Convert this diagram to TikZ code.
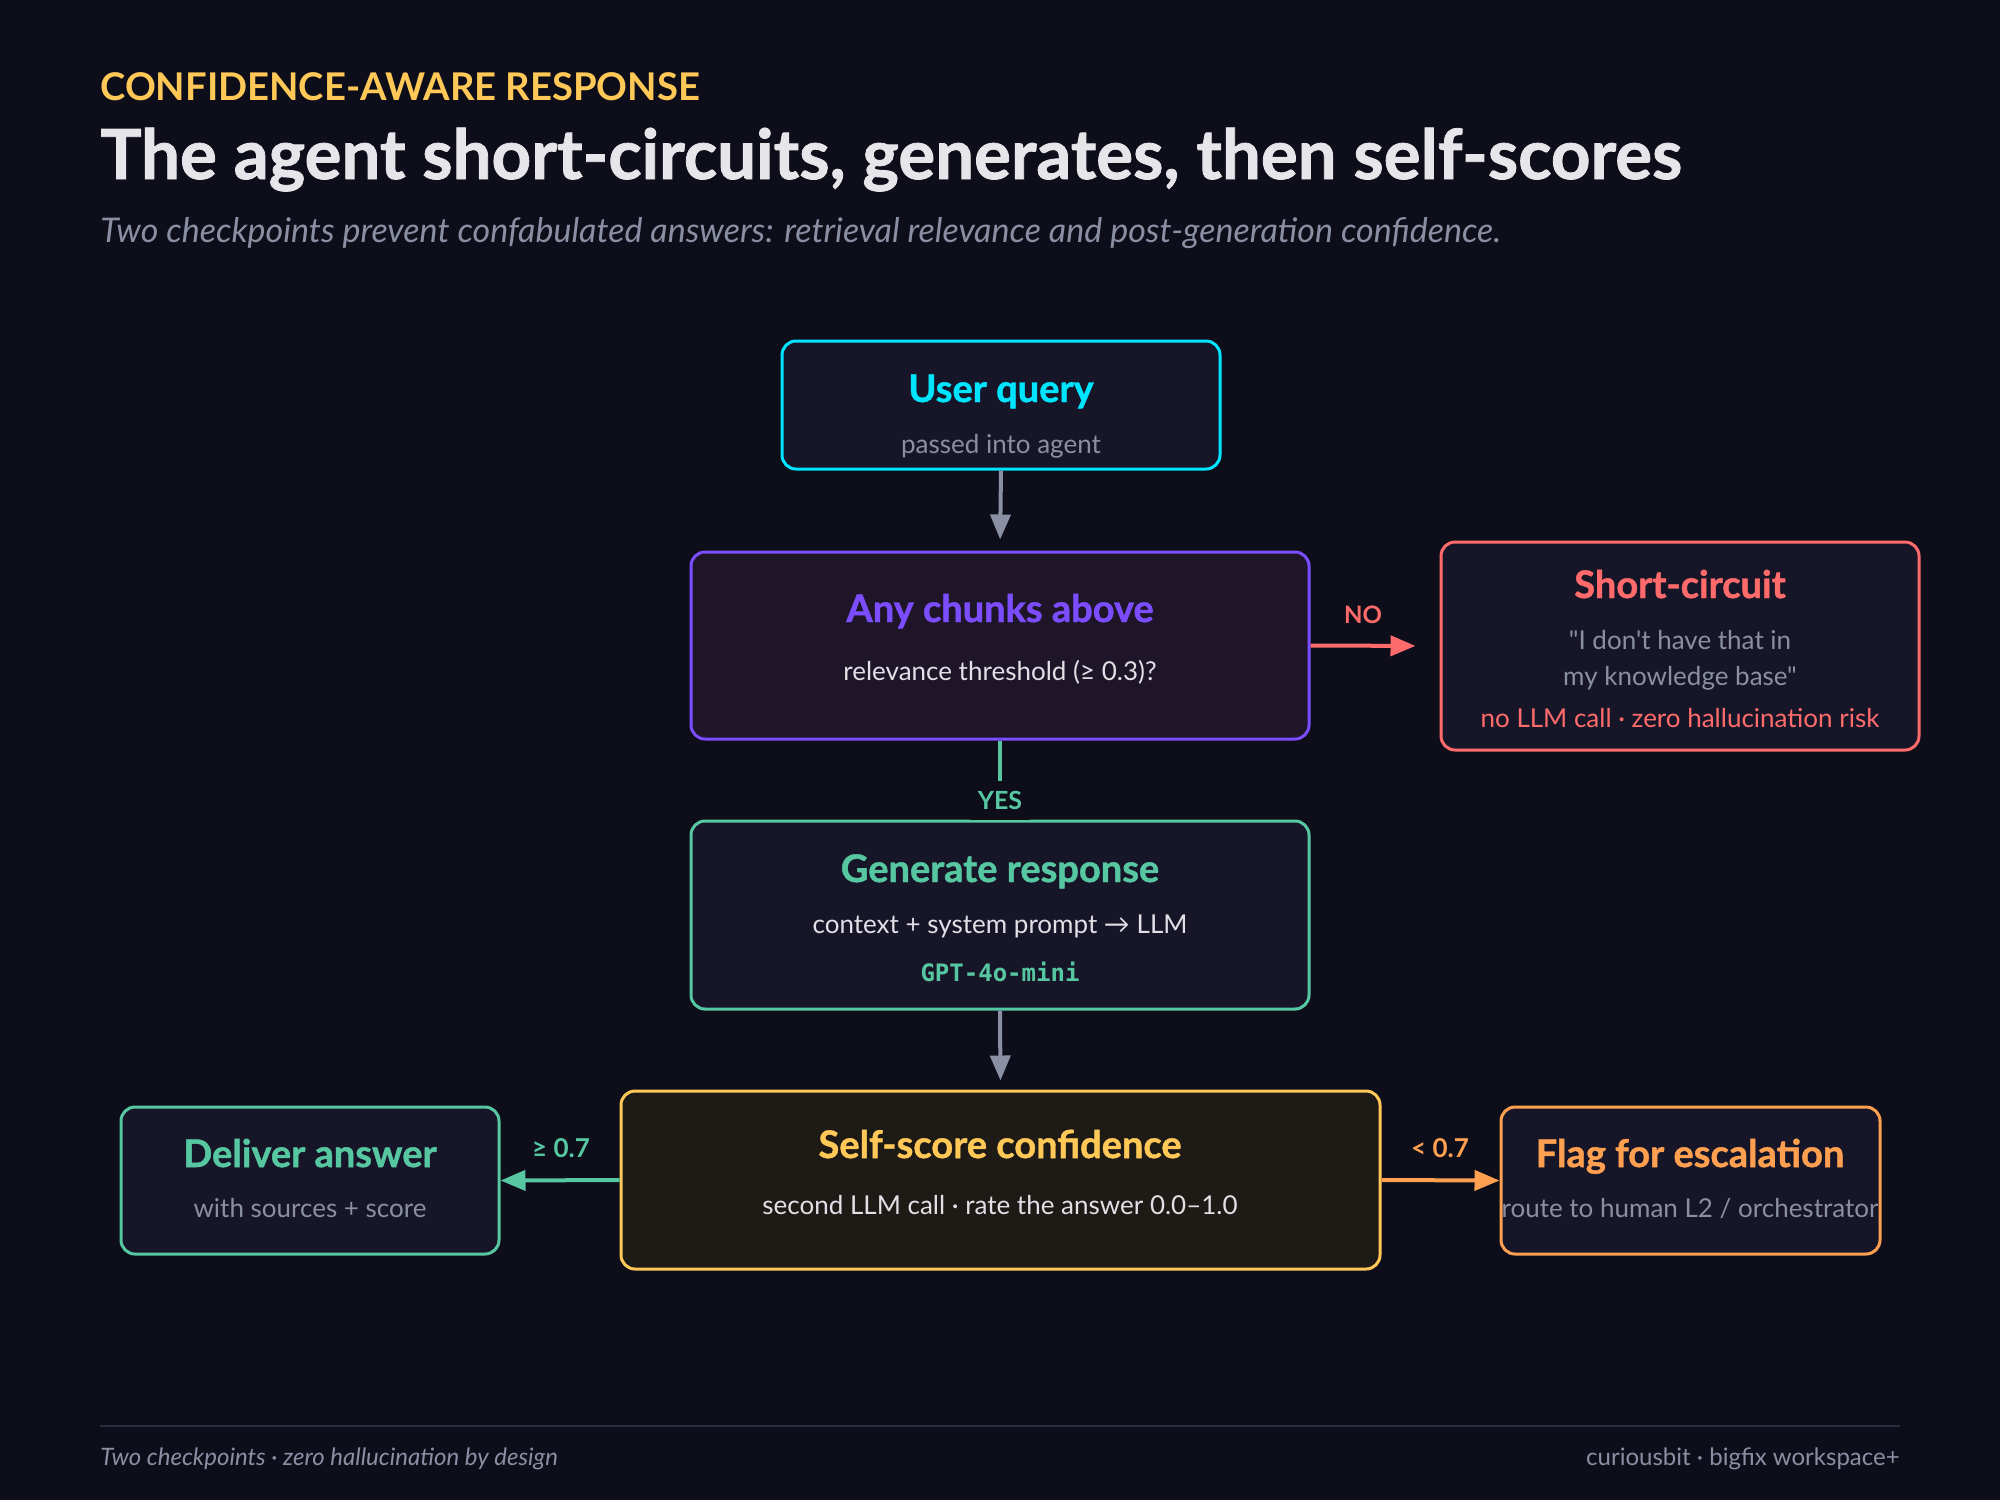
\documentclass[tikz,border=0pt]{standalone}
\usepackage{fontspec}
\setmainfont{Lato}[Ligatures=TeXOff]
\newfontfamily\heavyfont{Lato}[Ligatures=TeXOff, BoldFeatures={FakeBold=1.2}]
\newfontfamily\dvmono{DejaVu Sans Mono}
\usetikzlibrary{arrows.meta}
\definecolor{bgc}{HTML}{0D0E1A}
\definecolor{boxfill}{HTML}{161628}
\definecolor{decfill}{HTML}{1F1529}
\definecolor{selffill}{HTML}{1E1A16}
\definecolor{cyanc}{HTML}{00E5FF}
\definecolor{purplec}{HTML}{7C4DFF}
\definecolor{redc}{HTML}{FF6B6B}
\definecolor{tealc}{HTML}{57C7A2}
\definecolor{yellowc}{HTML}{FFC857}
\definecolor{orangec}{HTML}{FFA050}
\definecolor{greyt}{HTML}{8A8FA3}
\definecolor{lightt}{HTML}{E0E0E6}
\definecolor{titlec}{HTML}{E6E6EA}
\definecolor{arrowg}{HTML}{8A8FA3}
\definecolor{rulec}{HTML}{2A2B3C}
\begin{document}
\begin{tikzpicture}[x=0.5pt,y=-0.5pt,
  box/.style={draw, rounded corners=7pt, line width=1.5pt, inner sep=0pt, fill=boxfill},
  ttl/.style={anchor=base, inner sep=0pt, font=\heavyfont\bfseries\fontsize{19}{22}\selectfont},
  sub/.style={anchor=base, inner sep=0pt, font=\fontsize{13}{16}\selectfont, text=greyt},
  lsub/.style={sub, text=lightt},
  arr/.style={line width=2pt, -{Triangle[length=12.5pt,width=10pt]}},
  elbl/.style={anchor=base, inner sep=0pt, font=\bfseries\fontsize{12}{14}\selectfont},
  glbl/.style={anchor=base, inner sep=0pt, font=\bfseries\fontsize{13}{15}\selectfont}
]
\fill[bgc] (0,0) rectangle (2000,1500);
\useasboundingbox (0,0) rectangle (2000,1500);

% header
\node[anchor=base west, inner sep=0pt, text=yellowc, font=\bfseries\fontsize{19.1}{22}\selectfont] (eyebrow) at (100,100) {CONFIDENCE-AWARE RESPONSE};
\node[anchor=base west, inner sep=0pt, text=titlec, font=\heavyfont\bfseries\fontsize{34.5}{40}\selectfont] (title) at (100,179) {The agent short-circuits, generates, then self-scores};
\node[anchor=base west, inner sep=0pt, text=greyt, font=\itshape\fontsize{17}{20}\selectfont] (subtitle) at (100,242) {Two checkpoints prevent confabulated answers: retrieval relevance and post-generation confidence.};

% boxes
\node[box, draw=cyanc, minimum width=219pt, minimum height=64pt] (uq) at (1001,405) {};
\node[box, draw=purplec, fill=decfill, minimum width=309pt, minimum height=93.5pt] (dec) at (1000,645.5) {};
\node[box, draw=redc, minimum width=239pt, minimum height=104pt] (sc) at (1680,646) {};
\node[box, draw=tealc, minimum width=309pt, minimum height=94pt] (gen) at (1000,915) {};
\node[box, draw=yellowc, fill=selffill, minimum width=379.5pt, minimum height=89pt] (self) at (1000.5,1180) {};
\node[box, draw=tealc, minimum width=189pt, minimum height=73.5pt] (del) at (310,1180.5) {};
\node[box, draw=orangec, minimum width=189.5pt, minimum height=73.5pt] (flag) at (1690.5,1180.5) {};

% box texts
\node[ttl, text=cyanc] (uqt) at (1001,402) {User query};
\node[sub] (uqs) at (1001,453) {passed into agent};

\node[ttl, text=purplec] (dect) at (1000,622) {Any chunks above};
\node[lsub] (decs) at (1000,680) {relevance threshold (≥ 0.3)?};

\node[ttl, text=redc] (sct) at (1680,598) {Short-circuit};
\node[sub] (scs1) at (1680,649) {"I don't have that in};
\node[sub] (scs2) at (1680,685) {my knowledge base"};
\node[sub, text=redc] (scs3) at (1680,727) {no LLM call · zero hallucination risk};

\node[ttl, text=tealc] (gent) at (1000,882) {Generate response};
\node[lsub] (gens) at (1000,933) {context + system prompt → LLM};
\node[anchor=base, inner sep=0pt, text=tealc, font=\dvmono\bfseries\fontsize{12}{14}\selectfont] (genm) at (1000,981) {GPT-4o-mini};

\node[ttl, text=yellowc] (selft) at (1000,1158) {Self-score confidence};
\node[lsub] (selfs) at (1000,1214) {second LLM call · rate the answer 0.0–1.0};

\node[ttl, text=tealc] (delt) at (310,1167) {Deliver answer};
\node[sub] (dels) at (310,1217) {with sources + score};

\node[ttl, text=orangec] (flagt) at (1690,1167) {Flag for escalation};
\node[sub] (flags) at (1690,1217) {route to human L2 / orchestrator};

% connectors
\draw[arr, arrowg, shorten >=5.5pt] (uq.south) -- (dec.north);
\draw[arr, redc, shorten >=12pt] (dec.east) -- (sc.west);
\node[elbl, text=redc] (nolbl) at (1363,623) {NO};
\draw[line width=2pt, tealc] (dec.south) -- (gen.north)
  node[pos=0.762, fill=bgc, inner sep=0pt, minimum height=19.5pt, minimum width=30pt, text=tealc, font=\bfseries\fontsize{12.5}{14}\selectfont] (yeslbl) {YES};
\draw[arr, arrowg, shorten >=4.5pt] (gen.south) -- (self.north);
\draw[arr, tealc] (self.west) -- (del.east);
\node[glbl, text=tealc] (gelbl) at (561,1157) {≥ 0.7};
\draw[arr, orangec] (self.east) -- (flag.west);
\node[glbl, text=orangec] (ltlbl) at (1440,1157) {< 0.7};

% footer
\draw[rulec, line width=1pt] (100,1426) coordinate (rl) -- (1900,1426) coordinate (rr);
\node[anchor=base west, inner sep=0pt, text=greyt, font=\itshape\fontsize{12}{14}\selectfont] (footl) at (100,1465) {Two checkpoints · zero hallucination by design};
\node[anchor=base east, inner sep=0pt, text=greyt, font=\fontsize{12}{14}\selectfont] (footr) at (1900,1465) {curiousbit · bigfix workspace+};
\end{tikzpicture}
\end{document}
